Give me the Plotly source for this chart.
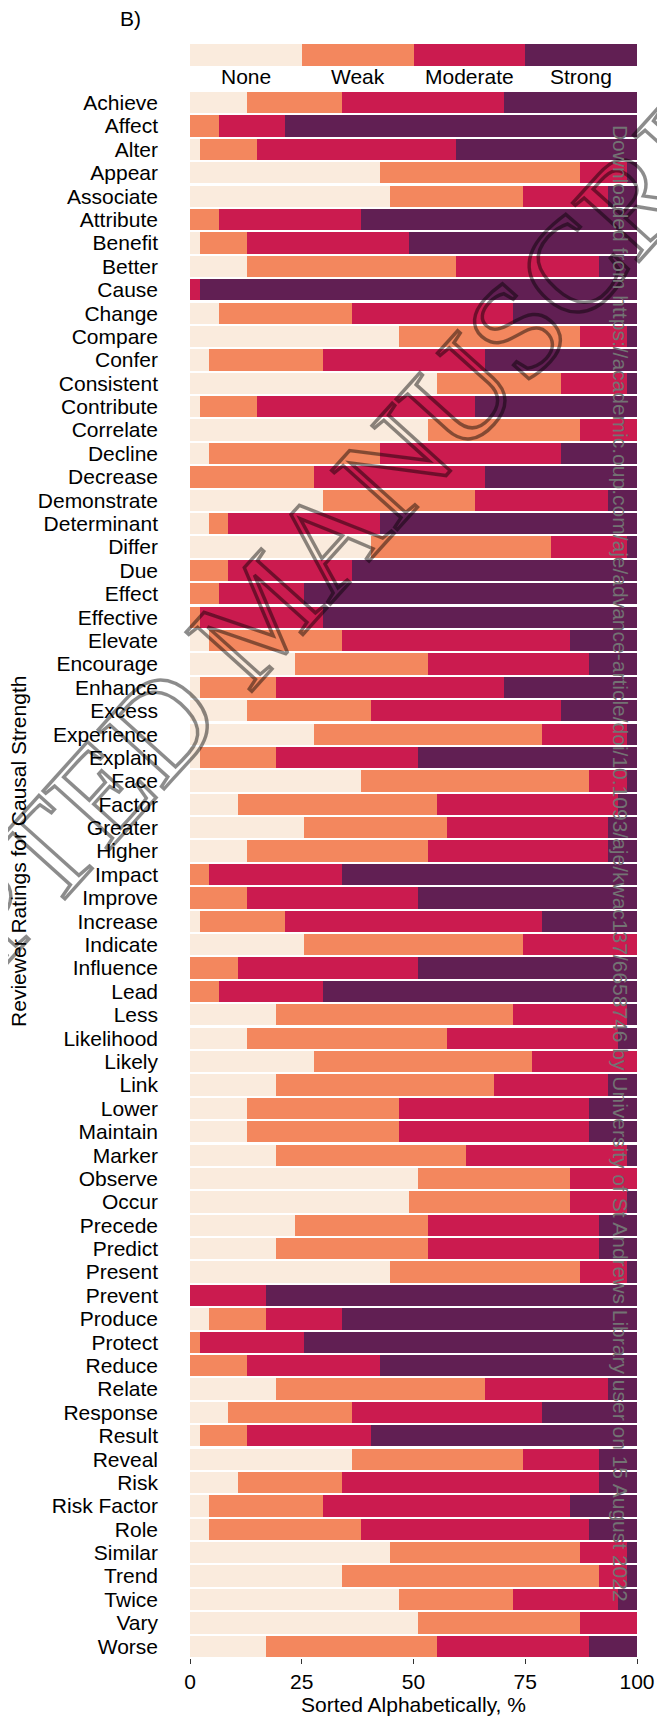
import plotly.graph_objects as go

# terms rated by reviewers (alphabetical, top to bottom)
terms = [
    "Achieve", "Affect", "Alter", "Appear", "Associate", "Attribute", "Benefit",
    "Better", "Cause", "Change", "Compare", "Confer", "Consistent", "Contribute",
    "Correlate", "Decline", "Decrease", "Demonstrate", "Determinant", "Differ",
    "Due", "Effect", "Effective", "Elevate", "Encourage", "Enhance", "Excess",
    "Experience", "Explain", "Face", "Factor", "Greater", "Higher", "Impact",
    "Improve", "Increase", "Indicate", "Influence", "Lead", "Less", "Likelihood",
    "Likely", "Link", "Lower", "Maintain", "Marker", "Observe", "Occur",
    "Precede", "Predict", "Present", "Prevent", "Produce", "Protect", "Reduce",
    "Relate", "Response", "Result", "Reveal", "Risk", "Risk Factor", "Role",
    "Similar", "Trend", "Twice", "Vary", "Worse",
]

# number of reviewers giving each rating (47 reviewers per term)
none = [6, 0, 1, 20, 21, 0, 1, 6, 0, 3, 22, 2, 26, 1, 25, 2, 0, 14, 2, 19,
        0, 0, 0, 2, 11, 1, 6, 13, 1, 18, 5, 12, 6, 0, 0, 1, 12, 0, 0, 9, 6,
        13, 9, 6, 6, 9, 24, 23, 11, 9, 21, 0, 2, 0, 0, 9, 4, 1, 17, 5, 2, 2,
        21, 16, 22, 24, 8]
weak = [10, 3, 6, 21, 14, 3, 5, 22, 0, 14, 19, 12, 13, 6, 16, 18, 13, 16, 2, 19,
        4, 3, 1, 14, 14, 8, 13, 24, 8, 24, 21, 15, 19, 2, 6, 9, 23, 5, 3, 25, 21,
        23, 23, 16, 16, 20, 16, 17, 14, 16, 20, 0, 6, 1, 6, 22, 13, 5, 18, 11, 12, 16,
        20, 27, 12, 17, 18]
moderate = [17, 7, 21, 5, 9, 15, 17, 15, 1, 17, 5, 17, 7, 23, 6, 19, 18, 14, 16, 8,
            13, 9, 13, 24, 17, 24, 20, 9, 15, 4, 19, 17, 19, 14, 18, 27, 12, 19, 11, 12, 18,
            11, 12, 20, 20, 17, 7, 6, 18, 18, 5, 8, 8, 11, 14, 13, 20, 13, 8, 27, 26, 24,
            5, 3, 11, 6, 16]
strong = [14, 37, 19, 1, 3, 29, 24, 4, 46, 13, 1, 16, 1, 17, 0, 8, 16, 3, 27, 1,
          30, 35, 33, 7, 5, 14, 8, 1, 23, 1, 2, 3, 3, 31, 23, 10, 0, 23, 33, 1, 2,
          0, 3, 5, 5, 1, 0, 1, 4, 4, 1, 39, 31, 35, 27, 3, 10, 28, 4, 4, 7, 5,
          1, 1, 2, 0, 5]
n_reviewers = 47

levels = ["None", "Weak", "Moderate", "Strong"]
colors = ["#FAEBDD", "#F3875E", "#CB1B4F", "#611F53"]

fig = go.Figure()

for name, counts, color in zip(levels, [none, weak, moderate, strong], colors):
    fig.add_trace(go.Bar(
        y=terms,
        x=[c / n_reviewers * 100 for c in counts],
        orientation='h',
        name=name,
        marker=dict(color=color, line_width=0),
        showlegend=False,
    ))

# colour key strip above the panel
key_share = 100 / len(levels)
for i, (name, color) in enumerate(zip(levels, colors)):
    fig.add_trace(go.Bar(
        y=["key"], x=[key_share], orientation='h', width=1,
        marker=dict(color=color, line_width=0),
        xaxis='x2', yaxis='y2', showlegend=False, hoverinfo='skip',
    ))
    fig.add_annotation(x=key_share * (i + 0.5), y=0.9796, xref='x2', yref='paper',
                       text=name, showarrow=False, font=dict(size=21),
                       xanchor='center', yanchor='middle')

fig.add_annotation(x=-0.134, y=1.0155, xref='paper', yref='paper', text="B)",
                   showarrow=False, font=dict(size=21), xanchor='center', yanchor='middle')
fig.add_annotation(x=-0.385, y=0.5, xref='paper', yref='paper',
                   text="Reviewer Ratings for Causal Strength", textangle=-90,
                   showarrow=False, font=dict(size=21), xanchor='center', yanchor='middle')
fig.add_annotation(x=0.5, y=-0.0291, xref='paper', yref='paper',
                   text="Sorted Alphabetically, %", borderpad=0,
                   showarrow=False, font=dict(size=21), xanchor='center', yanchor='middle')

# journal watermark and download stamp
fig.add_annotation(x=0.16, y=0.648, xref='paper', yref='paper',
                   text="<span style='fill:none;stroke:rgba(0,0,0,0.45);stroke-width:3.5px'>ACCEPTED MANUSCRIPT</span>",
                   textangle=-48, showarrow=False,
                   font=dict(family="Liberation Serif, Times New Roman, serif", size=135),
                   xanchor='center', yanchor='middle')
fig.add_annotation(x=0.962, y=0.4926, xref='paper', yref='paper',
                   text="Downloaded from https://academic.oup.com/aje/advance-article/doi/10.1093/aje/kwac137/6658746 by University of St Andrews Library user on 15 August 2022",
                   textangle=90, showarrow=False,
                   font=dict(size=21, color="rgb(115,115,115)"),
                   xanchor='center', yanchor='middle')

# the page body adds an 8px margin, so the margins are offset to compensate
fig.update_layout(
    width=665,
    height=1720,
    margin=dict(l=182, r=36, t=36, b=70),
    barmode='stack',
    bargap=0.09,
    plot_bgcolor='white',
    paper_bgcolor='white',
    font=dict(family="Liberation Sans, Arial, sans-serif", size=21, color='black'),
    xaxis=dict(range=[0, 100], tickvals=[0, 25, 50, 75, 100], ticks='outside',
               ticklen=5, tickcolor='#333333', showgrid=False, zeroline=False,
               showline=False),
    yaxis=dict(domain=[0, 0.9709], categoryorder='array', categoryarray=terms,
               range=[len(terms) - 0.5, -0.5], tickmode='linear', dtick=1,
               ticks='', ticklabelstandoff=31, showgrid=False, zeroline=False),
    xaxis2=dict(domain=[0, 1], range=[0, 100], visible=False, anchor='y2'),
    yaxis2=dict(domain=[0.9864, 1], range=[-0.5, 0.5], visible=False, anchor='x2'),
)

fig.write_html("out.html")
